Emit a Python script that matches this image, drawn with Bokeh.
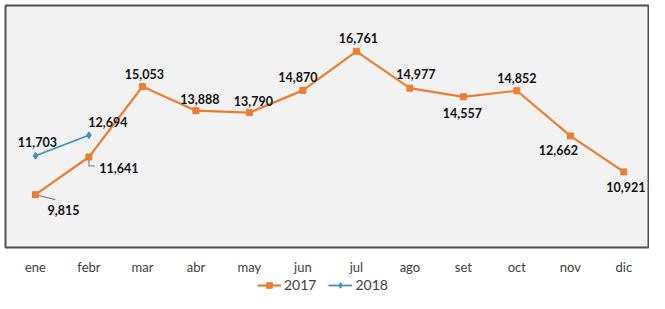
from bokeh.plotting import figure
from bokeh.layouts import column
from bokeh.models import Range1d, FixedTicker, ColumnDataSource, Legend, LegendItem
from bokeh.core.properties import value
from bokeh.embed import file_html
from bokeh.resources import INLINE

months = ["ene", "febr", "mar", "abr", "may", "jun", "jul", "ago", "set", "oct", "nov", "dic"]
sales_2017 = [9815, 11641, 15053, 13888, 13790, 14870, 16761, 14977, 14557, 14852, 12662, 10921]
sales_2018 = [11703, 12694]
series_names = ["2017", "2018"]

# label placement (screen px, +y = down)
dx_2017 = [28, 30, 2, 4, 4, -5, 2, 6, -1, 0, -12, 2]
dy_2017 = [15, 11, -13, -12, -12, -13, -13, -14, 16, -13, 14, 15]
dx_2018 = [2, 19]
dy_2018 = [-14, -13]

ORANGE = "#ED7D31"
BLUE = "#3A93C3"
FONT = "Lato"

W = 649
H_MAIN, H_LEG = 277, 16
TOP, LEFT = 5, 5
FB = 248                      # frame bottom (px)
BOTTOM = H_MAIN - FB
FW, FH = W - LEFT, FB - TOP

x0, x1 = -0.56, 11.48
y0, y1 = 7258, 18981

p = figure(width=W, height=H_MAIN, x_range=Range1d(x0, x1), y_range=Range1d(y0, y1),
           output_backend="svg", toolbar_location=None, y_axis_location=None,
           min_border_left=LEFT, min_border_right=0, min_border_top=TOP, min_border_bottom=BOTTOM,
           background_fill_color="#f2f2f2", border_fill_color="white")
p.outline_line_color = "#505050"
p.outline_line_width = 2
p.grid.visible = False

ax = p.xaxis[0]
ax.ticker = FixedTicker(ticks=list(range(len(months))))
ax.major_label_overrides = {i: m for i, m in enumerate(months)}
ax.axis_line_color = None
ax.major_tick_line_color = None
ax.minor_tick_line_color = None
ax.major_tick_out = 0
ax.major_tick_in = 0
ax.minor_tick_out = 0
ax.minor_tick_in = 0
ax.major_label_standoff = 11
ax.major_label_text_font = FONT
ax.major_label_text_font_size = "13px"
ax.major_label_text_color = "#404040"

xs17 = list(range(len(sales_2017)))
xs18 = list(range(len(sales_2018)))

# leader lines (converted from px to data units)
xu = (x1 - x0) / FW
yu = (y1 - y0) / FH
p.segment(x0=[xs17[0]], y0=[sales_2017[0]], x1=[xs17[0] + 20 * xu], y1=[sales_2017[0] - 5 * yu],
          line_color="#7f7f7f", line_width=1.2)
p.multi_line(xs=[[xs17[1], xs17[1], xs17[1] + 6 * xu]],
             ys=[[sales_2017[1] - 2 * yu, sales_2017[1] - 9 * yu, sales_2017[1] - 9 * yu]],
             line_color="#7f7f7f", line_width=1.2)

p.line(xs17, sales_2017, line_color=ORANGE, line_width=2.2)
p.scatter(xs17, sales_2017, marker="square", size=6, fill_color=ORANGE, line_color=ORANGE)
p.line(xs18, sales_2018, line_color=BLUE, line_width=1.8)
p.scatter(xs18, sales_2018, marker="diamond", size=7, fill_color=BLUE, line_color=BLUE)

s17 = ColumnDataSource(dict(x=xs17, y=sales_2017, t=[f"{v:,}" for v in sales_2017], dx=dx_2017, dy=dy_2017))
s18 = ColumnDataSource(dict(x=xs18, y=sales_2018, t=[f"{v:,}" for v in sales_2018], dx=dx_2018, dy=dy_2018))
for s in (s17, s18):
    p.text(x="x", y="y", text="t", x_offset="dx", y_offset="dy", source=s,
           text_font=value(FONT), text_font_style="bold", text_font_size="12.5px",
           text_color="#111111", text_align="center", text_baseline="middle")

# legend strip below the chart (its renderers hold the series but sit outside the view)
q = figure(width=W, height=H_LEG, x_range=Range1d(100, 101), y_range=Range1d(0, 1),
           output_backend="svg", toolbar_location=None, x_axis_location=None, y_axis_location=None,
           min_border=0, outline_line_color=None, background_fill_color="white",
           border_fill_color="white")
q.grid.visible = False
ql17 = q.line(xs17, sales_2017, line_color=ORANGE, line_width=2.2)
qm17 = q.scatter(xs17, sales_2017, marker="square", size=6, fill_color=ORANGE, line_color=ORANGE)
ql18 = q.line(xs18, sales_2018, line_color=BLUE, line_width=1.8)
qm18 = q.scatter(xs18, sales_2018, marker="diamond", size=7, fill_color=BLUE, line_color=BLUE)
legend = Legend(items=[LegendItem(label=series_names[0], renderers=[ql17, qm17]),
                       LegendItem(label=series_names[1], renderers=[ql18, qm18])],
                orientation="horizontal", location=(252, 0),
                border_line_color=None, background_fill_alpha=0,
                label_text_font=FONT, label_text_font_size="14px", label_text_color="#404040",
                glyph_width=24, glyph_height=14, label_height=14, spacing=12,
                padding=1, margin=0, label_standoff=3)
q.add_layout(legend, "center")

layout = column(p, q, spacing=0)
open("out.html", "w").write(file_html(layout, INLINE))
